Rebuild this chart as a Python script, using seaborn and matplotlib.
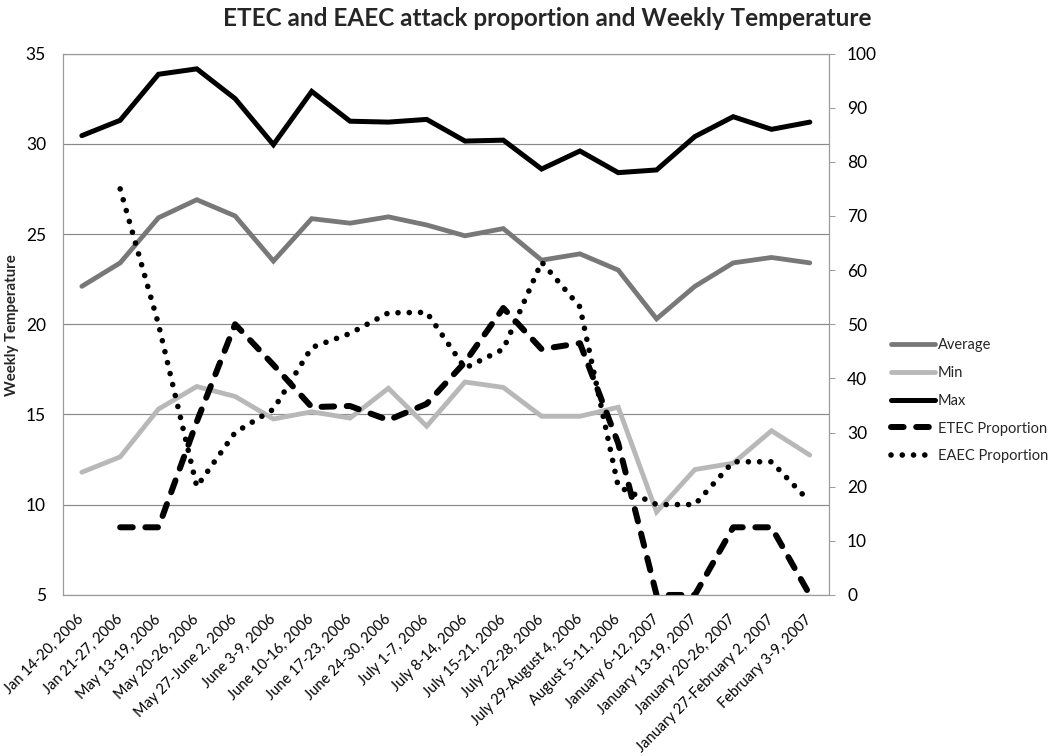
import numpy as np
import pandas as pd
import matplotlib
matplotlib.use("Agg")
import matplotlib.pyplot as plt
import seaborn as sns

categories = [
    "Jan 14-20, 2006", "Jan 21-27, 2006", "May 13-19, 2006", "May 20-26, 2006",
    "May 27-June 2, 2006", "June 3-9, 2006", "June 10-16, 2006", "June 17-23, 2006",
    "June 24-30, 2006", "July 1-7, 2006", "July 8-14, 2006", "July 15-21, 2006",
    "July 22-28, 2006", "July 29-August 4, 2006", "August 5-11, 2006",
    "January 6-12, 2007", "January 13-19, 2007", "January 20-26, 2007",
    "January 27-February 2, 2007", "February 3-9, 2007",
]
avg_temp = [22.1, 23.4, 25.9, 26.9, 26.0, 23.5, 25.85, 25.6, 25.95, 25.5,
            24.9, 25.3, 23.55, 23.9, 23.0, 20.3, 22.1, 23.4, 23.7, 23.4]
min_temp = [11.8, 12.65, 15.3, 16.55, 16.0, 14.75, 15.15, 14.8, 16.45, 14.35,
            16.8, 16.5, 14.9, 14.9, 15.4, 9.6, 11.95, 12.3, 14.1, 12.75]
max_temp = [30.45, 31.3, 33.85, 34.15, 32.5, 29.95, 32.9, 31.25, 31.2, 31.35,
            30.15, 30.2, 28.6, 29.6, 28.4, 28.55, 30.4, 31.5, 30.8, 31.2]
etec_prop = [np.nan, 12.5, 12.5, 32.0, 50.0, 42.5, 34.7, 34.9, 32.3, 35.3,
             43.0, 53.0, 45.4, 46.5, 28.0, 0.0, 0.0, 12.5, 12.5, 0.0]
eaec_prop = [np.nan, 75.0, 50.0, 20.0, 30.0, 34.3, 45.7, 48.3, 52.1, 52.2,
             41.9, 45.4, 61.5, 53.2, 20.0, 16.7, 16.7, 24.6, 24.6, 17.2]

title = "ETEC and EAEC attack proportion and Weekly Temperature"
ylabel = "Weekly Temperature"

sns.set_theme(style="white")
plt.rcParams["font.family"] = ["Lato", "DejaVu Sans"]

df = pd.DataFrame({
    "x": np.arange(len(categories)),
    "Average": avg_temp, "Min": min_temp, "Max": max_temp,
    "ETEC Proportion": etec_prop, "EAEC Proportion": eaec_prop,
})

fig = plt.figure(figsize=(10.5, 7.56), dpi=100)
ax = fig.add_axes([0.0597, 0.2130, 0.7298, 0.7162])
ax2 = ax.twinx()

px = 72 / 100.0  # one pixel in points

sns.lineplot(data=df, x="x", y="Average", ax=ax, color="#787878", lw=4.8 * px,
             label="Average", legend=False, solid_joinstyle="miter")
sns.lineplot(data=df, x="x", y="Min", ax=ax, color="#b8b8b8", lw=4.8 * px,
             label="Min", legend=False, solid_joinstyle="miter")
sns.lineplot(data=df, x="x", y="Max", ax=ax, color="black", lw=5.0 * px,
             label="Max", legend=False, solid_joinstyle="miter")

lw_e = 6.0 * px
sns.lineplot(data=df, x="x", y="ETEC Proportion", ax=ax2, color="black", lw=lw_e,
             label="ETEC Proportion", legend=False,
             linestyle=(0, (2.1, 2.1)), dash_capstyle="round")
lw_d = 5.6 * px
sns.lineplot(data=df, x="x", y="EAEC Proportion", ax=ax2, color="black", lw=lw_d,
             label="EAEC Proportion", legend=False,
             linestyle=(0, (0.01, 2.0)), dash_capstyle="round")

ax.set_xlim(-0.5, len(categories) - 0.5)
ax.set_ylim(5, 35)
ax.set_yticks([5, 10, 15, 20, 25, 30, 35])
ax2.set_ylim(0, 100)
ax2.set_yticks(range(0, 101, 10))

ax.set_xticks(df["x"])
ax.set_xticklabels(categories, rotation=45, ha="right", va="center",
                   rotation_mode="anchor", fontsize=10.5)
ax.tick_params(axis="x", length=0, pad=16)
ax.tick_params(axis="y", length=0, pad=12, labelsize=12.5)
ax2.tick_params(axis="y", length=4, width=0.6, color="#888888", pad=9,
                labelsize=12.5, direction="out", right=True)
for t in ax.get_yticklabels() + ax2.get_yticklabels() + ax.get_xticklabels():
    t.set_color("black")

ax.set_xlabel("")
ax.set_ylabel("")
ax2.set_ylabel("")

ax.yaxis.grid(True, color="#8a8a8a", lw=1.0 * px * 1.2)
ax.xaxis.grid(False)
ax2.grid(False)
ax.set_axisbelow(True)

for a in (ax, ax2):
    for s in a.spines.values():
        s.set_color("#9a9a9a")
        s.set_linewidth(0.8)
        s.set_linestyle((0, (1, 1)))

fig.text(547 / 1050, 1 - 19 / 756, title, ha="center", va="center",
         fontsize=17.5, fontweight="bold")
fig.text(12 / 1050, 1 - 325 / 756, ylabel, ha="center", va="center",
         rotation=90, fontsize=10.8, fontweight="bold")

h1, l1 = ax.get_legend_handles_labels()
h2, l2 = ax2.get_legend_handles_labels()
fig.legend(h1 + h2, l1 + l2, loc="upper left",
           bbox_to_anchor=(891 / 1050, 1 - 338 / 756),
           frameon=False, fontsize=10.5, handlelength=3.0, handletextpad=0.2,
           labelspacing=0.95, borderpad=0, borderaxespad=0)

fig.savefig("out.png", dpi=100)
